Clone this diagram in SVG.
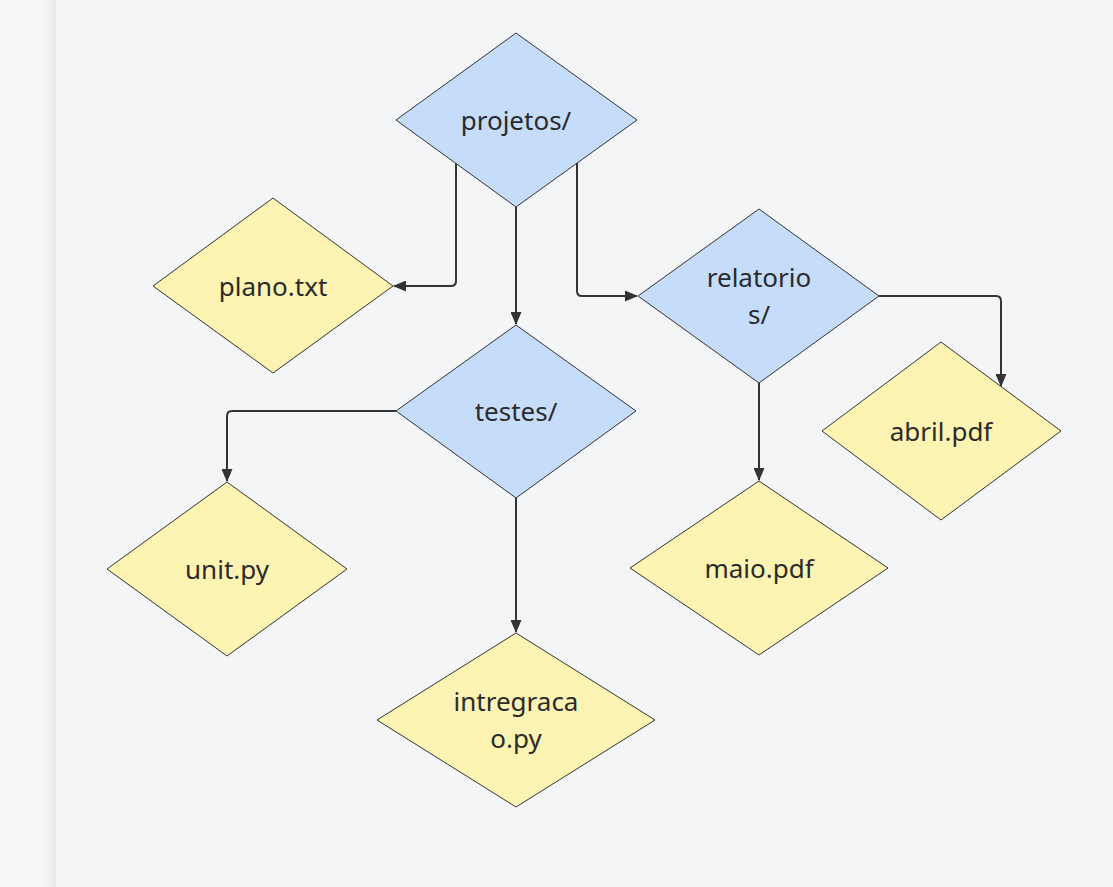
<svg xmlns="http://www.w3.org/2000/svg" width="1113" height="887" viewBox="0 0 1113 887">
<defs>
<linearGradient id="sh" x1="0" y1="0" x2="1" y2="0">
<stop offset="0" stop-color="#f7f7f7"/>
<stop offset="0.6" stop-color="#efefef"/>
<stop offset="1" stop-color="#e6e6e6"/>
</linearGradient>
<marker id="arr" viewBox="0 0 13 11" refX="12" refY="5.5" markerWidth="13" markerHeight="11" markerUnits="userSpaceOnUse" orient="auto">
<path d="M0,0 L13,5.5 L0,11 z" fill="#333"/>
</marker>
<style>
.dir{fill:#c6dcfb;stroke:#333;stroke-width:1}
.file{fill:#fdf3b2;stroke:#333;stroke-width:1}
.lbl{font-family:"Noto Sans","Open Sans",sans-serif;font-size:26px;fill:#2b2b2b;text-anchor:middle;dominant-baseline:central}
.edge{fill:none;stroke:#333;stroke-width:2;marker-end:url(#arr)}
</style>
</defs>
<rect x="0" y="0" width="1113" height="887" fill="#f7f7f7"/>
<rect x="44" y="0" width="12" height="887" fill="url(#sh)"/>
<rect x="56" y="0" width="1057" height="887" fill="#f4f5f7"/>
<g id="connectors">
<path class="edge" d="M456,163 V281 Q456,286 451,286 H394"/>
<path class="edge" d="M516,207 V324"/>
<path class="edge" d="M577,163 V291 Q577,296 582,296 H637"/>
<path class="edge" d="M879,296 H996 Q1001,296 1001,301 V386"/>
<path class="edge" d="M759,383 V480"/>
<path class="edge" d="M396,411 H232 Q227,411 227,416 V481"/>
<path class="edge" d="M516,498 V632"/>
</g>
<g id="projetos">
<polygon class="dir" points="516,33 637,120 516,207 396,120"/>
<text class="lbl" x="516" y="120">projetos/</text>
</g>
<g id="plano">
<polygon class="file" points="273,198 393,286 273,373 153,286"/>
<text class="lbl" x="273" y="286">plano.txt</text>
</g>
<g id="relatorios">
<polygon class="dir" points="759,209 879,296 759,383 638,296"/>
<text class="lbl" x="759" y="277">relatorio</text>
<text class="lbl" x="759" y="314">s/</text>
</g>
<g id="abril">
<polygon class="file" points="941,342 1061,431 941,520 822,431"/>
<text class="lbl" x="941" y="431">abril.pdf</text>
</g>
<g id="testes">
<polygon class="dir" points="516,325 636,411 516,498 396,411"/>
<text class="lbl" x="516" y="411">testes/</text>
</g>
<g id="unit">
<polygon class="file" points="227,482 347,569 227,656 107,569"/>
<text class="lbl" x="227" y="569">unit.py</text>
</g>
<g id="maio">
<polygon class="file" points="759,481 888,568 759,655 630,568"/>
<text class="lbl" x="759" y="568">maio.pdf</text>
</g>
<g id="intregracao">
<polygon class="file" points="516,633 655,720 516,807 377,720"/>
<text class="lbl" x="516" y="701">intregraca</text>
<text class="lbl" x="516" y="738">o.py</text>
</g>
</svg>
